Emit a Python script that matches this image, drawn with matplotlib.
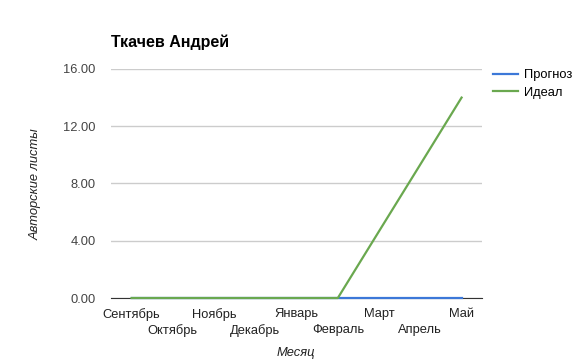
import matplotlib.pyplot as plt
import numpy as np

plt.rcParams.update({
    'font.family': ['Liberation Sans', 'DejaVu Sans'],
    'axes.facecolor': 'white',
    'figure.facecolor': 'white'
})

# Данные
months = ['Сентябрь', 'Октябрь', 'Ноябрь', 'Декабрь', 'Январь',
          'Февраль', 'Март', 'Апрель', 'Май']
forecast = [0, 0, 0, 0, 0, 0, 0, 0, 0]
ideal = [0, 0, 0, 0, 0, 0, 4.67, 9.33, 14]
yticks = [0, 4, 8, 12, 16]

fig = plt.figure(figsize=(5.72, 3.61), dpi=100)
ax = fig.add_axes([0.194, 0.1745, 0.649, 0.6345])

x = np.arange(len(months))
ax.plot(x, forecast, color='#3c78d8', lw=1.6, label='Прогноз', zorder=3, clip_on=False)
ax.plot(x, ideal, color='#6aa84f', lw=1.6, label='Идеал', zorder=4, clip_on=False)

ax.set_xlim(-0.5, len(months) - 0.5)
ax.set_ylim(0, 16)
ax.set_yticks(yticks)
ax.set_yticklabels([f'{v:.2f}' for v in yticks], fontsize=9.3, color='#444444')

# подписи месяцев в два ряда
ax.set_xticks(x[::2])
ax.set_xticklabels(months[::2], fontsize=9.3, color='#222222')
ax.set_xticks(x[1::2], minor=True)
ax.set_xticklabels(months[1::2], minor=True, fontsize=9.3, color='#222222')
ax.tick_params(axis='y', length=0, pad=11)
ax.tick_params(axis='x', which='major', length=0, pad=7)
ax.tick_params(axis='x', which='minor', length=0, pad=18.5)

ax.yaxis.grid(True, color='#cccccc', lw=1)
for s in ['top', 'right', 'left']:
    ax.spines[s].set_visible(False)
ax.spines['bottom'].set_color('#333333')
ax.spines['bottom'].set_zorder(2)

fig.text(0.194, 0.883, 'Ткачев Андрей', fontsize=11.5, fontweight='bold', va='center')
fig.text(0.063, 0.49, 'Авторские листы', fontsize=9.3, style='italic',
         color='#222222', rotation=90, ha='center', va='center')
fig.text(0.518, 0.022, 'Месяц', fontsize=9.3, style='italic',
         color='#222222', ha='center', va='center')

ax.legend(loc='upper left', bbox_to_anchor=(0.999, 1.05), frameon=False,
          fontsize=9.3, handlelength=1.9, handletextpad=0.45, labelspacing=0.45)

plt.savefig('out.png', dpi=100, facecolor='white')
